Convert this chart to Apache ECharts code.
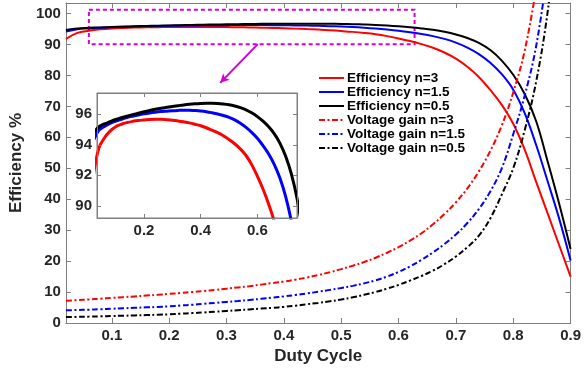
<!DOCTYPE html>
<html><head><meta charset="utf-8">
<script src="https://cdn.jsdelivr.net/npm/echarts@6/dist/echarts.min.js"></script>
<style>html,body{margin:0;padding:0;background:#fff}#c{width:584px;height:370px}</style>
</head><body><div id="c"></div>
<script>
// Duty cycle samples (0.02 .. 0.90, step 0.02)
const duty = [0.02,0.04,0.06,0.08,0.10,0.12,0.14,0.16,0.18,0.20,0.22,0.24,0.26,0.28,0.30,0.32,0.34,0.36,0.38,0.40,0.42,0.44,0.46,0.48,0.50,0.52,0.54,0.56,0.58,0.60,0.62,0.64,0.66,0.68,0.70,0.72,0.74,0.76,0.78,0.80,0.82,0.84,0.86,0.88,0.90];
// Efficiency (%)
const effN3  = [91.8,93.75,94.45,94.9,95.19,95.35,95.46,95.54,95.6,95.63,95.66,95.67,95.67,95.65,95.62,95.57,95.51,95.44,95.35,95.25,95.12,94.96,94.8,94.6,94.35,94.07,93.73,93.3,92.7,91.95,91.1,90.1,88.95,87.4,85.4,82.8,79.5,75.3,70.5,64.4,56.0,45.6,35.4,25.2,15.0];
const effN15 = [94.2,94.95,95.2,95.4,95.56,95.68,95.79,95.88,95.96,96.03,96.09,96.14,96.18,96.21,96.24,96.26,96.27,96.27,96.25,96.22,96.17,96.1,96.02,95.92,95.8,95.64,95.42,95.15,94.82,94.43,93.95,93.4,92.7,91.8,90.6,89.0,86.9,84.1,80.4,75.4,67.8,57.5,45.8,33.8,20.2];
const effN05 = [94.7,95.18,95.37,95.52,95.66,95.78,95.88,95.98,96.08,96.17,96.25,96.33,96.4,96.46,96.52,96.57,96.62,96.66,96.69,96.71,96.72,96.72,96.71,96.68,96.63,96.55,96.44,96.3,96.1,95.85,95.55,95.18,94.72,94.1,93.25,92.1,90.5,88.2,84.8,80.2,74.0,65.2,52.2,38.6,23.9];
// Voltage gain
const gainN3  = [7.2,7.4,7.6,7.85,8.1,8.35,8.6,8.85,9.1,9.4,9.7,10.0,10.35,10.7,11.1,11.5,11.9,12.4,12.9,13.4,14.0,14.7,15.5,16.4,17.4,18.5,19.7,21.1,22.7,24.5,26.6,29.0,31.9,35.2,39.0,43.5,49.0,55.6,63.8,74.5,88.0,108.0,null,null,null];
const gainN15 = [4.1,4.2,4.3,4.45,4.6,4.75,4.9,5.05,5.2,5.4,5.65,5.9,6.2,6.5,6.8,7.1,7.45,7.8,8.2,8.6,9.05,9.55,10.1,10.7,11.3,12.0,12.8,13.8,15.0,16.5,18.3,20.4,22.8,25.5,28.6,32.3,36.8,42.5,50.0,61.0,73.5,89.5,114.0,null,null];
const gainN05 = [1.9,1.98,2.06,2.15,2.25,2.35,2.45,2.55,2.67,2.8,3.0,3.2,3.4,3.65,3.9,4.15,4.4,4.65,4.9,5.2,5.6,6.05,6.5,7.0,7.6,8.3,9.1,10.0,11.1,12.3,13.7,15.2,16.9,19.0,21.5,24.5,28.2,33.8,41.5,50.0,62.3,78.0,100.5,132.0,null];
// Series names
const names = ['Efficiency n=3','Efficiency n=1.5','Efficiency n=0.5','Voltage gain n=3','Voltage gain n=1.5','Voltage gain n=0.5'];
// Tick labels
const xTicks = [0.1,0.2,0.3,0.4,0.5,0.6,0.7,0.8,0.9];
const yTicks = [0,10,20,30,40,50,60,70,80,90,100];
const insetXTicks = [0.2,0.4,0.6];
const insetYTicks = [90,92,94,96];
// Annotation (data units): zoom box and arrow
const zoomBox = [[0.06,101.2],[0.628,90.1]];
const arrowPts = [[0.3546,90.1],[0.289,77.6]];

const toPts = a => duty.map((d,i)=>[d,a[i]]);
const FONT = '"Liberation Sans", Arial, Helvetica, sans-serif';
const AX = '#7f7f7f', TXT = '#262626', MAG = '#d400d4';
const colors = ['#ff0000','#0000ff','#000000'];
const dashDot = [6,2.5,2,2.5];

function xAx(grid, pos, min, max, ticks, showLabel, len, extra){
  return Object.assign({type:'value', gridIndex:grid, position:pos, min:min, max:max,
    axisLine:{show:true,onZero:false,lineStyle:{color:AX,width:1}},
    axisTick:{show:true,inside:true,length:len,customValues:ticks,lineStyle:{color:AX}},
    axisLabel:{show:showLabel,customValues:ticks,margin:5,color:TXT,fontFamily:FONT,fontWeight:'bold',fontSize:15,
      formatter:v=>v.toFixed(1)},
    splitLine:{show:false}}, extra||{});
}
function yAx(grid, pos, min, max, ticks, showLabel, len, extra){
  return Object.assign({type:'value', gridIndex:grid, position:pos, min:min, max:max,
    axisLine:{show:true,onZero:false,lineStyle:{color:AX,width:1}},
    axisTick:{show:true,inside:true,length:len,customValues:ticks,lineStyle:{color:AX}},
    axisLabel:{show:showLabel,customValues:ticks,margin:5,color:TXT,fontFamily:FONT,fontWeight:'bold',fontSize:15,
      formatter:v=>String(v)},
    splitLine:{show:false}}, extra||{});
}

const effArr = [effN3,effN15,effN05];
const gainArr = [gainN3,gainN15,gainN05];
const series = [];
effArr.forEach((a,i)=>{
  series.push({name:names[i],type:'line',xAxisIndex:0,yAxisIndex:0,data:toPts(a),symbol:'none',showSymbol:false,
    smooth:0.4,clip:true,lineStyle:{color:colors[i],width:2},itemStyle:{color:colors[i]},z:3});
});
gainArr.forEach((a,i)=>{
  series.push({name:names[i+3],type:'line',xAxisIndex:0,yAxisIndex:0,data:toPts(a),symbol:'none',showSymbol:false,
    smooth:0.4,clip:true,lineStyle:{color:colors[i],width:2,type:dashDot},itemStyle:{color:colors[i]},z:3});
});
// inset efficiency curves
effArr.forEach((a,i)=>{
  series.push({name:names[i],type:'line',xAxisIndex:2,yAxisIndex:2,data:toPts(a),symbol:'none',showSymbol:false,
    smooth:0.4,clip:true,lineStyle:{color:colors[i],width:3},itemStyle:{color:colors[i]},z:5});
});
// annotations on first series
series[0].markArea = {silent:true,itemStyle:{color:'rgba(0,0,0,0)',borderColor:MAG,borderWidth:2,borderType:[4,3]},
  data:[[{coord:zoomBox[0]},{coord:zoomBox[1]}]]};
series[0].markLine = {silent:true,symbol:['none','arrow'],symbolSize:[7,9],label:{show:false},
  lineStyle:{color:MAG,width:2,type:'solid'},data:[[{coord:arrowPts[0]},{coord:arrowPts[1]}]]};

const chart = echarts.init(document.getElementById('c'),null,{renderer:'canvas'});
chart.setOption({
  animation:false,
  backgroundColor:'#fff',
  grid:[
    {left:60,right:13,top:3,bottom:47},
    {left:97,right:287,top:93,bottom:152,show:true,backgroundColor:'#fff',borderColor:AX,borderWidth:1,z:4}
  ],
  legend:{show:true,orient:'vertical',left:318,top:71,padding:0,itemWidth:25,itemHeight:12,itemGap:0,
    data:names,itemStyle:{opacity:0,borderWidth:0},
    textStyle:{color:'#000',fontFamily:FONT,fontWeight:'bold',fontSize:13.5,lineHeight:14,padding:[0,0,0,-2]}},
  xAxis:[
    xAx(0,'bottom',0.02,0.9,xTicks,true,5,{name:'Duty Cycle',nameLocation:'middle',nameGap:21,
      nameTextStyle:{color:TXT,fontFamily:FONT,fontWeight:'bold',fontSize:17}}),
    xAx(0,'top',0.02,0.9,xTicks,false,5),
    xAx(1,'bottom',0.034,0.74,insetXTicks,true,4,{z:6}),
    xAx(1,'top',0.034,0.74,insetXTicks,false,4,{z:6})
  ],
  yAxis:[
    yAx(0,'left',0,103.4,yTicks,true,5,{name:'Efficiency %',nameLocation:'middle',nameGap:36,
      nameTextStyle:{color:TXT,fontFamily:FONT,fontWeight:'bold',fontSize:17}}),
    yAx(0,'right',0,103.4,yTicks,false,5),
    yAx(1,'left',89.2,97.4,insetYTicks,true,4,{z:6}),
    yAx(1,'right',89.2,97.4,insetYTicks,false,4,{z:6})
  ],
  series:series
});
</script></body></html>
